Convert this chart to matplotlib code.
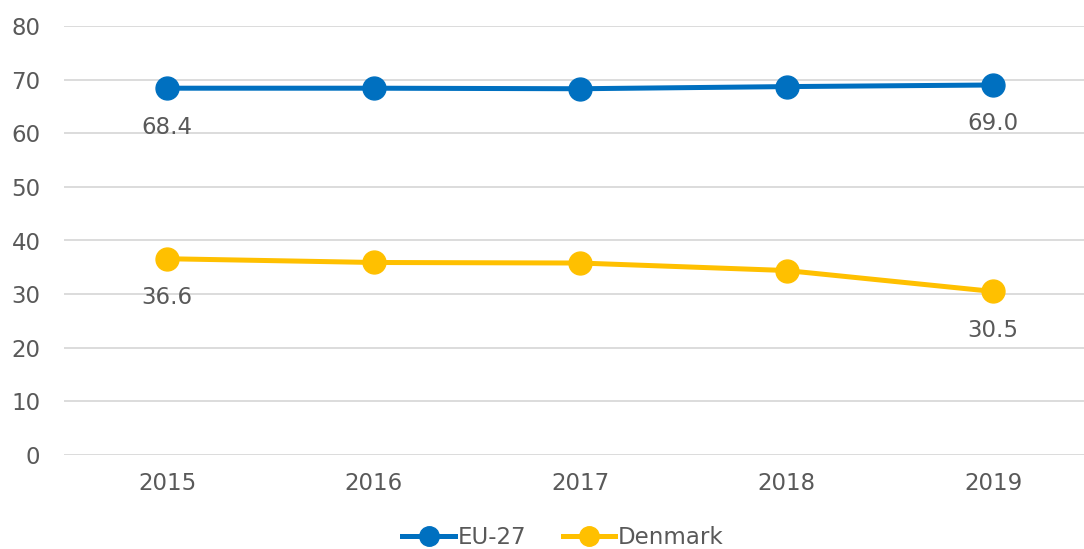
import matplotlib.pyplot as plt

plt.rcParams['font.family'] = ['DejaVu Sans']

# data
years = ['2015', '2016', '2017', '2018', '2019']
eu27 = [68.4, 68.4, 68.3, 68.7, 69.0]
denmark = [36.6, 35.9, 35.8, 34.4, 30.5]

grey = '#595959'
fs = 16.5

fig = plt.figure(figsize=(10.84, 5.49), dpi=100)
ax = fig.add_axes([64 / 1084, 94 / 549, 1 - 64 / 1084, 429 / 549])

x = list(range(len(years)))
ax.plot(x, eu27, color='#0070C0', lw=3.6, marker='o', ms=16.5, label='EU-27', zorder=3)
ax.plot(x, denmark, color='#FFC000', lw=3.6, marker='o', ms=16.5, label='Denmark', zorder=3)

# labels on first and last point only
for series in (eu27, denmark):
    for i in (0, len(series) - 1):
        ax.annotate(f'{series[i]:.1f}', (x[i], series[i]), xytext=(0, -28),
                    textcoords='offset points', ha='center', va='center',
                    fontsize=fs, color=grey)

ax.set_ylim(0, 80)
ax.set_yticks(range(0, 81, 10))
ax.set_xlim(-0.5, (1084 - 167) / 206.5)
ax.set_xticks(x)
ax.set_xticklabels(years)
ax.grid(axis='y', color='#D9D9D9', lw=1.3)
ax.set_axisbelow(True)
for s in ax.spines.values():
    s.set_visible(False)
ax.tick_params(length=0, labelsize=fs, colors=grey)
ax.tick_params(axis='y', pad=17)
ax.tick_params(axis='x', pad=12)

leg = fig.legend(loc='center', bbox_to_anchor=(563 / 1084, 1 - 538 / 549), ncol=2,
                 frameon=False, fontsize=fs, handlelength=2.3, columnspacing=1.6,
                 handletextpad=0.1, markerscale=0.85)
for t in leg.get_texts():
    t.set_color(grey)

fig.savefig('out.png', dpi=100)
